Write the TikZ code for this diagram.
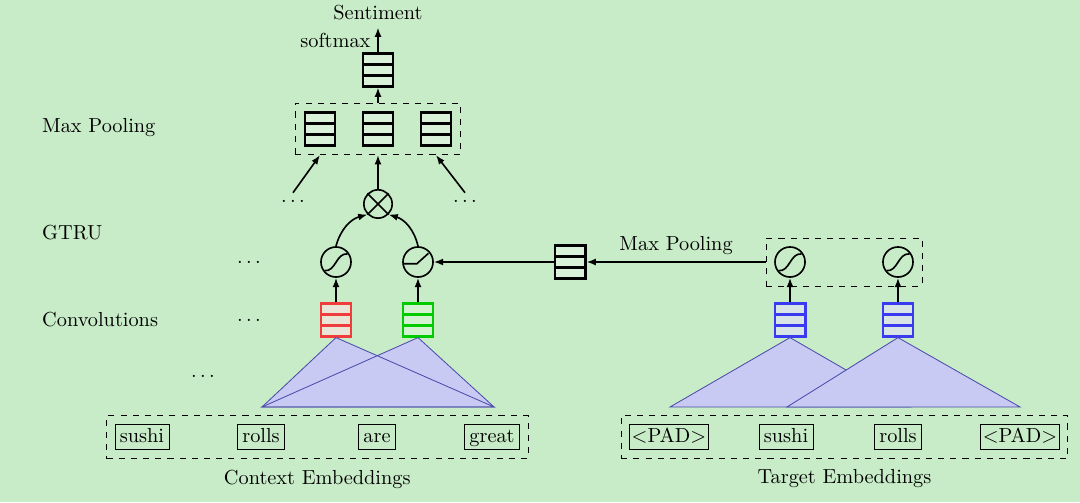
\documentclass[tikz,border=0pt]{standalone}
\usepackage{tikz}
\usetikzlibrary{arrows.meta,positioning,fit,shapes.multipart}
\definecolor{bgGreen}{HTML}{C8ECC8}
\definecolor{convRed}{HTML}{F03C3C}
\definecolor{convGreen}{HTML}{00CC00}
\definecolor{convBlue}{HTML}{3A3AF0}
\definecolor{triFill}{HTML}{C8CAF4}
\definecolor{triLine}{HTML}{4848A8}
\newcommand{\iconSigmoid}{\tikz[scale=0.1]{
  \useasboundingbox (-1.8,-1) rectangle (1.8,1);
  \draw[thick] (-2,-1.5) .. controls (0,-1.7) and (0,1.6) .. (2,1.4);
}}
\newcommand{\iconRelu}{\tikz[scale=0.1]{
  \useasboundingbox (-1.8,-1) rectangle (1.8,1);
  \draw[thick] (-2.6,-0.3) -- (-0.2,-0.3) -- (1.8,1.5);
}}

\begin{document}
\begin{tikzpicture}[
  vec/.style={rectangle split, rectangle split parts=3, draw=#1, line width=1.1pt, inner sep=0pt, minimum width=0.5cm,
    rectangle split empty part height=0.135cm, rectangle split empty part depth=0pt, rectangle split empty part width=0.38cm},
  vec/.default=black,
  pale/.style={fill=white, fill opacity=0.3},
  conv/.style={vec=#1, fill=#1!15, fill opacity=0.6},
  gate/.style={circle, draw, thick, minimum size=0.52cm, inner sep=0pt},
  word/.style={draw, inner xsep=2.4pt, inner ysep=2.5pt, text height=1.5ex, text depth=0.25ex},
  pool/.style={draw, dashed, inner sep=4pt},
  tri/.style={fill=triFill, draw=triLine},
  arrow/.style={-{Latex[length=1.6mm]}, thick},
]
\path[use as bounding box, fill=bgGreen] (0,0) rectangle (18.685,8.685);

% left labels
\node[anchor=west] (lmp) at (0.606,6.47) {Max Pooling};
\node[anchor=west] (lgtru) at (0.606,4.654) {GTRU};
\node[anchor=west] (lconv) at (0.606,3.149) {Convolutions};

% output
\node[vec, pale] (sm) at (6.54,7.474) {};
\node (sent) at (6.54,8.46) {Sentiment};
\node[vec, pale] (mp1) at (5.536,6.453) {};
\node[vec, pale] (mp2) at (6.54,6.453) {};
\node[vec, pale] (mp3) at (7.543,6.453) {};
\node[pool, fit=(mp1)(mp3)] (mpool) {};
\node (dl) at (5.069,5.208) {$\dots$};
\node (dr) at (8.045,5.208) {$\dots$};

% GTRU
\node[gate, minimum size=0.49cm] (ot) at (6.54,5.156) {};
\draw[thick] (ot.north east) -- (ot.south west) (ot.north west) -- (ot.south east);
\node[gate] (g1) at (5.813,4.152) {\iconSigmoid};
\node[gate] (g2) at (7.232,4.152) {\iconRelu};
\node (dg) at (4.308,4.152) {$\dots$};

% convolutions
\node[conv=convRed] (cv1) at (5.813,3.149) {};
\node[conv=convGreen] (cv2) at (7.232,3.149) {};
\node (dc) at (4.308,3.149) {$\dots$};
\node (dt) at (3.512,2.18) {$\dots$};

% context
\node[word] (c1) at (2.457,1.125) {sushi};
\node[word] (c2) at (4.516,1.125) {rolls};
\node[word] (c3) at (6.522,1.125) {are};
\node[word] (c4) at (8.512,1.125) {great};
\node[pool, fit=(c1)(c4)] (ctx) {};
\node[below=2pt of ctx] {Context Embeddings};
\coordinate (cl) at (4.533,1.644);
\coordinate (cr) at (8.547,1.644);
\fill[triFill] (cv1.south) -- (cl) -- (cr) -- cycle;
\fill[triFill] (cv2.south) -- (cl) -- (cr) -- cycle;
\draw[triLine] (cv1.south) -- (cl) -- (cr) -- cycle;
\draw[triLine] (cv2.south) -- (cl) -- (cr) -- cycle;

% target
\node[vec, pale] (pv) at (9.862,4.152) {};
\node[gate] (tg1) at (13.668,4.152) {\iconSigmoid};
\node[gate] (tg2) at (15.536,4.152) {\iconSigmoid};
\node[pool, fit=(tg1)(tg2)] (tpool) {};
\node[conv=convBlue] (tv1) at (13.668,3.149) {};
\node[conv=convBlue] (tv2) at (15.536,3.149) {};
\node[word, inner xsep=1pt] (t1) at (11.574,1.125) {\textless PAD\textgreater};
\node[word] (t2) at (13.599,1.125) {sushi};
\node[word] (t3) at (15.536,1.125) {rolls};
\node[word, inner xsep=1pt] (t4) at (17.647,1.125) {\textless PAD\textgreater};
\node[pool, fit=(t1)(t4)] (tgt) {};
\node[below=2pt of tgt] {Target Embeddings};
\draw[tri] (tv1.south) -- (11.592,1.644) -- (15.744,1.644) -- cycle;
\draw[tri] (tv2.south) -- (13.616,1.644) -- (17.647,1.644) -- cycle;

% arrows
\draw[arrow] (sm.north) -- node[left] {softmax} (sent.south);
\draw[arrow] (mpool.north) -- (sm.south);
\draw[arrow] (ot.north) -- (mpool.south);
\draw[arrow] (dl.north) -- (mpool.south -| mp1);
\draw[arrow] (dr.north) -- (mpool.south -| mp3);
\draw[arrow] (g1.north) to[bend left=30] (ot.south west);
\draw[arrow] (g2.north) to[bend right=30] (ot.south east);
\draw[arrow] (cv1) -- (g1);
\draw[arrow] (cv2) -- (g2);
\draw[arrow] (tv1) -- (tg1);
\draw[arrow] (tv2) -- (tg2);
\draw[arrow] (tpool.west) -- node[above] {Max Pooling} (pv.east);
\draw[arrow] (pv.west) -- (g2.east);
\end{tikzpicture}
\end{document}
